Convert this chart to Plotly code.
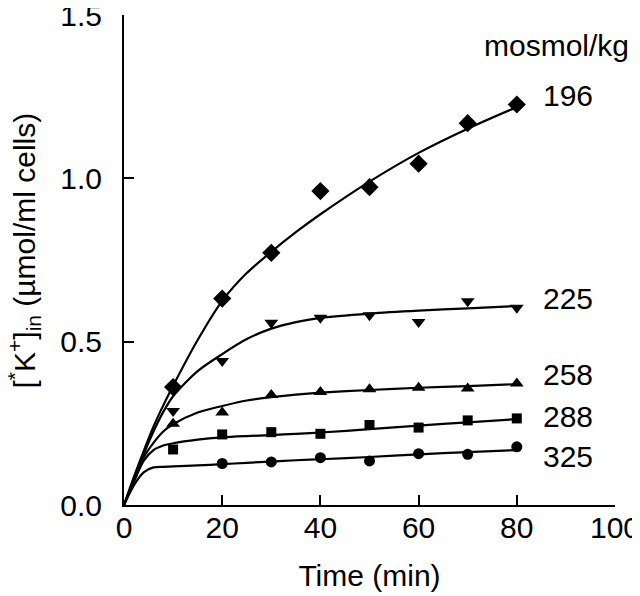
import plotly.graph_objects as go

# ---- data ----
time_pts = [10, 20, 30, 40, 50, 60, 70, 80]
time_pts_325 = [20, 30, 40, 50, 60, 70, 80]
k_196 = [0.361, 0.632, 0.772, 0.961, 0.973, 1.045, 1.169, 1.226]
k_225 = [0.288, 0.441, 0.558, 0.573, 0.581, 0.560, 0.624, 0.604]
k_258 = [0.249, 0.283, 0.337, 0.346, 0.354, 0.359, 0.357, 0.372]
k_288 = [0.170, 0.216, 0.223, 0.218, 0.245, 0.237, 0.259, 0.265]
k_325 = [0.127, 0.132, 0.145, 0.135, 0.157, 0.155, 0.178]

fit_t = [0, 2, 4, 6, 8, 10, 15, 20, 25, 30, 35, 40, 50, 60, 70, 80]
fit_196 = [0, 0.085, 0.165, 0.24, 0.305, 0.365, 0.505, 0.625, 0.71, 0.775, 0.835, 0.89, 0.99, 1.078, 1.152, 1.218]
fit_225 = [0, 0.08, 0.155, 0.225, 0.285, 0.333, 0.41, 0.462, 0.508, 0.54, 0.56, 0.573, 0.586, 0.595, 0.602, 0.609]
fit_258 = [0, 0.075, 0.145, 0.19, 0.225, 0.247, 0.283, 0.303, 0.320, 0.330, 0.338, 0.344, 0.352, 0.359, 0.364, 0.370]
fit_288 = [0, 0.07, 0.135, 0.168, 0.182, 0.189, 0.2, 0.207, 0.211, 0.214, 0.218, 0.222, 0.232, 0.243, 0.253, 0.263]
fit_325 = [0, 0.06, 0.10, 0.115, 0.117, 0.118, 0.121, 0.125, 0.129, 0.133, 0.137, 0.14, 0.147, 0.155, 0.162, 0.168]

osmolality = ["196", "225", "258", "288", "325"]
x_ticks = [0, 20, 40, 60, 80, 100]
y_ticks = [0.0, 0.5, 1.0, 1.5]
y_tick_text = ["0.0", "0.5", "1.0", "1.5"]

FONT = "Liberation Sans, Arial, sans-serif"
FS = 30

fig = go.Figure()

fits = [fit_196, fit_225, fit_258, fit_288, fit_325]
for f in fits:
    fig.add_trace(go.Scatter(x=fit_t, y=f, mode="lines", line=dict(color="black", width=2.2, shape="spline", smoothing=0.8),
                             hoverinfo="skip", showlegend=False, cliponaxis=False))

series = [
    (time_pts, k_196, "diamond", 14),
    (time_pts, k_225, "triangle-down", 12),
    (time_pts, k_258, "triangle-up", 12),
    (time_pts, k_288, "square", 10),
    (time_pts_325, k_325, "circle", 11),
]
for xs, ys, sym, sz in series:
    fig.add_trace(go.Scatter(x=xs, y=ys, mode="markers", marker=dict(symbol=sym, size=sz, color="black", line=dict(width=0)),
                             showlegend=False, cliponaxis=False))

label_y = [1.255, 0.631, 0.398, 0.272, 0.147]
annotations = []
for name, yy in zip(osmolality, label_y):
    annotations.append(dict(x=85.0, y=yy, xref="x", yref="y", text=name, showarrow=False, xanchor="left", yanchor="middle",
                            font=dict(family=FONT, size=FS, color="black")))
annotations.append(dict(x=1.033, y=1.408, xref="paper", yref="y", text="mosmol/kg", showarrow=False, xanchor="right",
                        yanchor="middle", font=dict(family=FONT, size=FS, color="black")))
annotations.append(dict(x=-0.203, y=0.52, xref="paper", yref="paper", textangle=-90, showarrow=False,
                        xanchor="center", yanchor="middle",
                        text="[<sup>*</sup>K<sup>+</sup>]<sub>in</sub> (µmol/ml cells)",
                        font=dict(family=FONT, size=FS, color="black")))

fig.update_layout(
    width=640, height=596,
    margin=dict(l=116, r=33, t=7, b=99, autoexpand=False),
    paper_bgcolor="white", plot_bgcolor="white",
    font=dict(family=FONT, size=FS, color="black"),
    annotations=annotations,
    xaxis=dict(range=[0, 100], tickvals=x_ticks, ticks="inside", ticklen=10, tickwidth=2, tickcolor="black",
               showline=True, linecolor="black", linewidth=2, showgrid=False, zeroline=False,
               tickfont=dict(family=FONT, size=FS), ticklabelstandoff=-5, automargin=False,
               ticklabeloverflow="allow",
               title=dict(text="Time (min)", font=dict(family=FONT, size=FS), standoff=22)),
    yaxis=dict(range=[0, 1.5], tickvals=y_ticks, ticktext=y_tick_text, ticks="inside", ticklen=10, tickwidth=2,
               tickcolor="black", showline=True, linecolor="black", linewidth=2, showgrid=False, zeroline=False,
               tickfont=dict(family=FONT, size=FS), ticklabelstandoff=14, automargin=False,
               ticklabeloverflow="allow"),
)

fig.write_html("out.html")
